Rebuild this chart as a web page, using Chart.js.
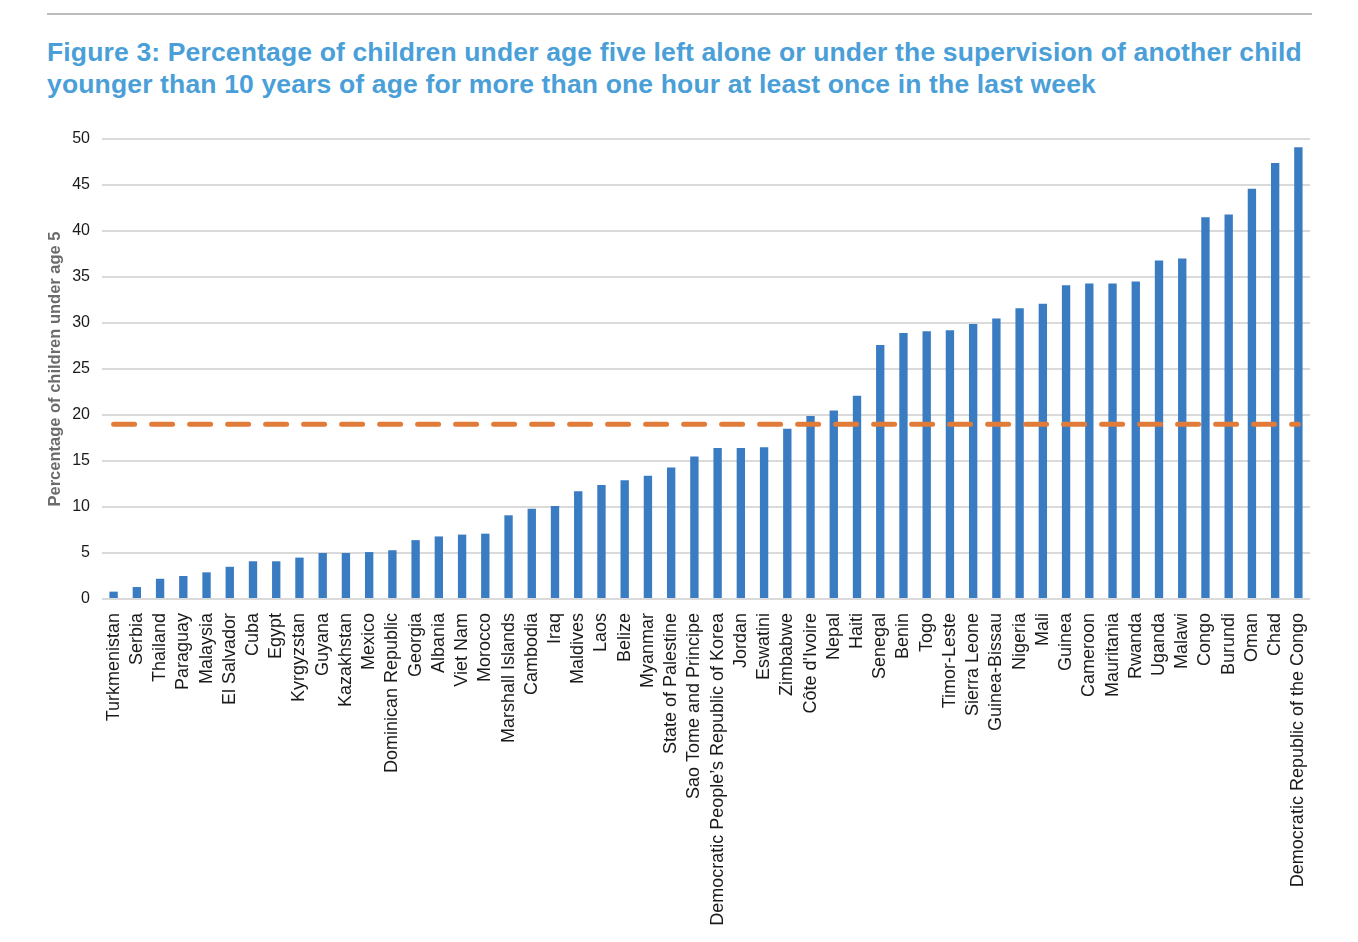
<!DOCTYPE html>
<html>
<head>
<meta charset="utf-8">
<script src="https://cdn.jsdelivr.net/npm/chart.js@4/dist/chart.umd.min.js"></script>
<style>
    html, body { margin: 0; padding: 0; background: #fff; }
    #wrap { position: relative; width: 1358px; height: 942px; }
    #rule { position: absolute; left: 47px; top: 13px; width: 1265px; height: 2px; background: #bdbdbd; }
    #title {
        position: absolute; left: 47px; top: 36px; margin: 0;
        font-family: "Liberation Sans", Arial, sans-serif; font-weight: bold;
        font-size: 26.5px; letter-spacing: 0.15px; line-height: 32px; color: #4a9fd8; white-space: nowrap;
    }
    canvas { position: absolute; left: 0; top: 0; }
</style>
</head>
<body>
<div id="wrap">
    <div id="rule"></div>
    <h2 id="title">Figure 3: Percentage of children under age five left alone or under the supervision of another child<br>younger than 10 years of age for more than one hour at least once in the last week</h2>
    <canvas id="chart" width="1358" height="942"></canvas>
</div>
<script>
// countries, sorted as in the figure
const countries = [
    "Turkmenistan", "Serbia", "Thailand", "Paraguay", "Malaysia", "El Salvador", "Cuba", "Egypt",
    "Kyrgyzstan", "Guyana", "Kazakhstan", "Mexico", "Dominican Republic", "Georgia", "Albania",
    "Viet Nam", "Morocco", "Marshall Islands", "Cambodia", "Iraq", "Maldives", "Laos", "Belize",
    "Myanmar", "State of Palestine", "Sao Tome and Principe", "Democratic People’s Republic of Korea",
    "Jordan", "Eswatini", "Zimbabwe", "Côte d'Ivoire", "Nepal", "Haiti", "Senegal", "Benin", "Togo",
    "Timor-Leste", "Sierra Leone", "Guinea-Bissau", "Nigeria", "Mali", "Guinea", "Cameroon",
    "Mauritania", "Rwanda", "Uganda", "Malawi", "Congo", "Burundi", "Oman", "Chad",
    "Democratic Republic of the Congo"
];

// percentage of children under 5 left with inadequate supervision
const percentages = [
    0.8, 1.3, 2.2, 2.5, 2.9, 3.5, 4.1, 4.1,
    4.5, 5.0, 5.0, 5.1, 5.3, 6.4, 6.8,
    7.0, 7.1, 9.1, 9.8, 10.1, 11.7, 12.4, 12.9,
    13.4, 14.3, 15.5, 16.4,
    16.4, 16.5, 18.5, 19.9, 20.5, 22.1, 27.6, 28.9, 29.1,
    29.2, 29.9, 30.5, 31.6, 32.1, 34.1, 34.3,
    34.3, 34.5, 36.8, 37.0, 41.5, 41.8, 44.6, 47.4,
    49.1
];

// average across countries (dashed line)
const average = 19;

const yTicks = [0, 5, 10, 15, 20, 25, 30, 35, 40, 45, 50];

const ctx = document.getElementById("chart").getContext("2d");

new Chart(ctx, {
    data: {
        labels: countries,
        datasets: [
            {
                type: "line",
                label: "Average",
                data: countries.map(() => average),
                borderColor: "#e07b39",
                borderWidth: 5,
                borderDash: [21, 17],
                borderCapStyle: "round",
                pointRadius: 0,
                order: 0
            },
            {
                type: "bar",
                label: "Percentage",
                data: percentages,
                backgroundColor: "#3a7cc2",
                barPercentage: 0.36,
                categoryPercentage: 1,
                order: 1
            }
        ]
    },
    options: {
        responsive: false,
        animation: false,
        layout: { padding: { top: 139, left: 40, right: 48, bottom: 0 } },
        plugins: {
            legend: { display: false },
            tooltip: { enabled: false }
        },
        scales: {
            x: {
                grid: { display: false },
                border: { display: false },
                ticks: {
                    autoSkip: false,
                    minRotation: 90,
                    maxRotation: 90,
                    padding: 6,
                    color: "#1a1a1a",
                    font: { family: "Liberation Sans, Arial, sans-serif", size: 18 }
                },
                afterFit: (scale) => { scale.height = 942 - 599; }
            },
            y: {
                min: 0,
                max: 50,
                afterBuildTicks: (scale) => { scale.ticks = yTicks.map(v => ({ value: v })); },
                grid: { color: "#dadada", lineWidth: 2, drawTicks: false },
                border: { display: false },
                ticks: {
                    padding: 12,
                    color: "#1a1a1a",
                    font: { family: "Liberation Sans, Arial, sans-serif", size: 16 }
                },
                title: {
                    display: true,
                    text: "Percentage of children under age 5",
                    color: "#6b6b6b",
                    padding: { top: 6, bottom: 0 },
                    font: { family: "Liberation Sans, Arial, sans-serif", size: 16.5, weight: "bold" }
                },
                afterFit: (scale) => { scale.width = 62; }
            }
        }
    }
});
</script>
</body>
</html>
